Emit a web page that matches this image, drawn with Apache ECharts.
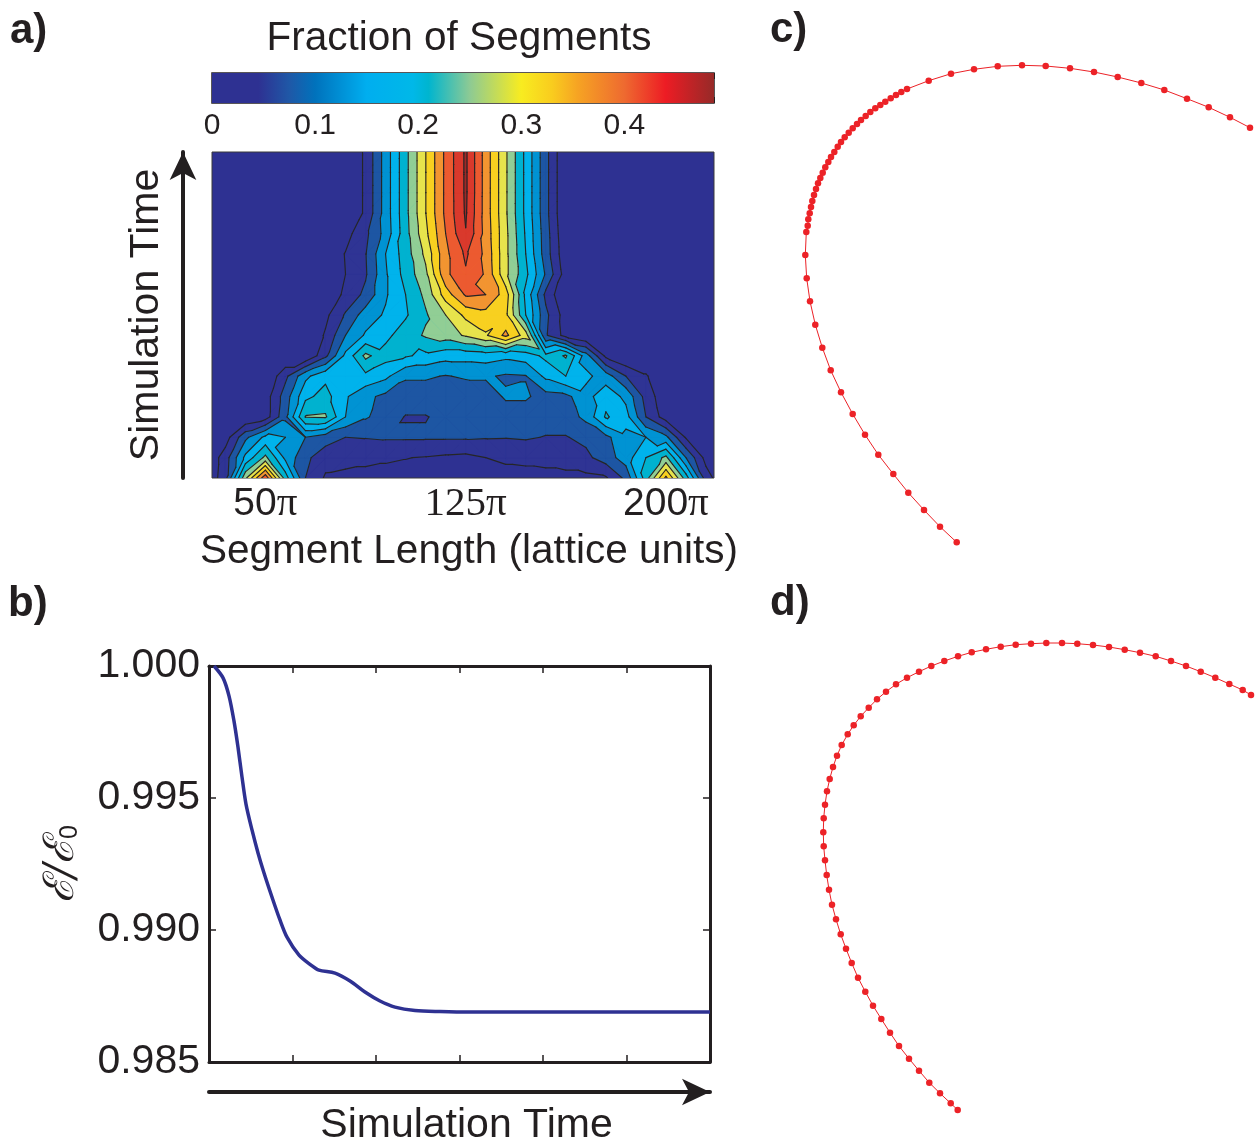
<!DOCTYPE html>
<html>
<head>
<meta charset="utf-8">
<script src="https://cdn.jsdelivr.net/npm/echarts@6/dist/echarts.min.js"></script>
<style>
  html, body { margin: 0; padding: 0; background: #fff; }
  #chart { width: 1260px; height: 1143px; }
</style>
</head>
<body>
<div id="chart"></div>
<script>
// ---------- panel a: segment-length distribution over time ----------
// Segment-length bins, in units of pi
const segLengths = [27.5, 35, 42.5, 50, 57.5, 65, 72.5, 80, 87.5, 95, 102.5, 110, 117.5, 125,
  132.5, 140, 147.5, 155, 162.5, 170, 177.5, 185, 192.5, 200, 207.5, 215, 222.5];
// Recorded simulation steps (bottom = start)
const timeSteps = [0, 1, 2, 3, 4, 5, 6, 7, 8, 9, 10, 11, 12, 13, 14, 15, 16];
// Fraction of segments, one row per time step, one entry per length bin
const fraction = [
  [0, 0.065, 0.27, 0.43, 0.22, 0.08, 0.035, 0.03, 0.03, 0.03, 0.03, 0.03, 0.03, 0.03, 0.03, 0.03, 0.03, 0.03, 0.03, 0.03, 0.035, 0.09, 0.22, 0.37, 0.22, 0.06, 0],
  [0, 0.06, 0.17, 0.25, 0.15, 0.09, 0.055, 0.053, 0.048, 0.044, 0.041, 0.038, 0.033, 0.03, 0.04, 0.045, 0.047, 0.05, 0.056, 0.07, 0.1, 0.14, 0.2, 0.25, 0.12, 0.025, 0],
  [0, 0.02, 0.11, 0.17, 0.16, 0.12, 0.1, 0.08, 0.082, 0.085, 0.085, 0.085, 0.085, 0.085, 0.083, 0.082, 0.085, 0.078, 0.078, 0.09, 0.11, 0.15, 0.16, 0.13, 0.035, 0, 0],
  [0, 0, 0, 0.02, 0.11, 0.242, 0.245, 0.16, 0.125, 0.1, 0.078, 0.078, 0.09, 0.095, 0.1, 0.1, 0.1, 0.1, 0.1, 0.13, 0.205, 0.175, 0.08, 0.02, 0, 0, 0],
  [0, 0, 0, 0.02, 0.1, 0.19, 0.215, 0.165, 0.13, 0.11, 0.1, 0.1, 0.1, 0.095, 0.1, 0.125, 0.125, 0.105, 0.11, 0.145, 0.185, 0.15, 0.065, 0.01, 0, 0, 0],
  [0, 0, 0, 0, 0.07, 0.15, 0.19, 0.18, 0.19, 0.17, 0.125, 0.125, 0.118, 0.125, 0.125, 0.115, 0.118, 0.17, 0.2, 0.17, 0.14, 0.08, 0.045, 0, 0, 0, 0],
  [0, 0, 0, 0, 0, 0, 0.07, 0.17, 0.25, 0.215, 0.205, 0.19, 0.175, 0.175, 0.18, 0.17, 0.18, 0.21, 0.245, 0.14, 0.03, 0, 0, 0, 0, 0, 0],
  [0, 0, 0, 0, 0, 0, 0.045, 0.12, 0.165, 0.19, 0.22, 0.245, 0.26, 0.285, 0.315, 0.37, 0.3, 0.085, 0.025, 0, 0, 0, 0, 0, 0, 0, 0],
  [0, 0, 0, 0, 0, 0, 0.03, 0.085, 0.14, 0.165, 0.195, 0.235, 0.28, 0.33, 0.345, 0.33, 0.2, 0.09, 0.02, 0, 0, 0, 0, 0, 0, 0, 0],
  [0, 0, 0, 0, 0, 0, 0.005, 0.05, 0.09, 0.155, 0.2, 0.25, 0.34, 0.405, 0.40, 0.34, 0.19, 0.07, 0, 0, 0, 0, 0, 0, 0, 0, 0],
  [0, 0, 0, 0, 0, 0, 0.01, 0.04, 0.075, 0.155, 0.215, 0.27, 0.39, 0.435, 0.395, 0.29, 0.21, 0.115, 0.02, 0, 0, 0, 0, 0, 0, 0, 0],
  [0, 0, 0, 0, 0, 0, 0.01, 0.042, 0.078, 0.16, 0.22, 0.29, 0.39, 0.447, 0.39, 0.29, 0.2, 0.1, 0.01, 0, 0, 0, 0, 0, 0, 0, 0],
  [0, 0, 0, 0, 0, 0, 0, 0.025, 0.07, 0.135, 0.225, 0.31, 0.40, 0.478, 0.385, 0.29, 0.195, 0.098, 0.005, 0, 0, 0, 0, 0, 0, 0, 0],
  [0, 0, 0, 0, 0, 0, 0, 0, 0.047, 0.138, 0.228, 0.319, 0.409, 0.485, 0.382, 0.286, 0.19, 0.093, 0, 0, 0, 0, 0, 0, 0, 0, 0],
  [0, 0, 0, 0, 0, 0, 0, 0, 0.047, 0.138, 0.228, 0.319, 0.409, 0.487, 0.382, 0.286, 0.19, 0.093, 0, 0, 0, 0, 0, 0, 0, 0, 0],
  [0, 0, 0, 0, 0, 0, 0, 0, 0.047, 0.138, 0.228, 0.319, 0.409, 0.487, 0.382, 0.286, 0.19, 0.093, 0, 0, 0, 0, 0, 0, 0, 0, 0],
  [0, 0, 0, 0, 0, 0, 0, 0, 0.047, 0.138, 0.228, 0.319, 0.409, 0.487, 0.382, 0.286, 0.19, 0.093, 0, 0, 0, 0, 0, 0, 0, 0, 0]
];
const lengthTicks = [50, 125, 200];
const contourLevels = [0.04, 0.08, 0.12, 0.16, 0.20, 0.24, 0.28, 0.32, 0.36, 0.40, 0.44, 0.48];
const bandColors = ['#2e3192', '#2f3494', '#1d56a3', '#0093d3', '#00b3ec', '#00b2cf', '#91ce95',
  '#e7e34c', '#f8d020', '#f29431', '#ec5a30', '#d9392c', '#9e2a28'];
const colorMax = 0.487;
const colorbarStops = [
  [0, '#2e3192'], [0.045, '#2e3192'], [0.075, '#1f58a7'], [0.1, '#0072bc'], [0.15, '#00aeef'],
  [0.195, '#00b8e8'], [0.21, '#00b5cf'], [0.25, '#8dca94'], [0.3, '#f8ec20'], [0.33, '#f9cc1e'],
  [0.355, '#f6a323'], [0.4, '#ee6a30'], [0.44, '#ed1c24'], [0.487, '#962a28']
];

// ---------- panel b: normalised energy ----------
const energyTime = [0.06, 0.168, 0.24, 0.299, 0.347, 0.395, 0.443, 0.515, 0.587, 0.659, 0.754, 0.85,
  0.934, 1.078, 1.222, 1.317, 1.509, 1.689, 1.868, 2.048, 2.228, 2.467, 2.766, 3.126, 6.0];
const energyRatio = [1.0, 0.99955, 0.99886, 0.99792, 0.99693, 0.9958, 0.99477, 0.99379, 0.99292,
  0.99216, 0.99125, 0.99038, 0.98973, 0.98905, 0.98867, 0.98848, 0.98837, 0.98807, 0.98765,
  0.98731, 0.98708, 0.98695, 0.98691, 0.98689, 0.98689];

// ---------- panels c, d: loop node positions ----------
const loopC = [[196.7,492.3],[180,476.7],[164,460],[148.3,442.7],[133.3,424],[118.3,404.7],[105,384.7],
  [92.7,364],[81,342.3],[70.7,320.3],[62.3,297.7],[55.3,274.7],[50,251.3],[46.7,228.3],[45.3,205],
  [46.3,182],[47.7,175.7],[48.3,169.3],[49.7,163.3],[51,157],[52.3,151],[54,145],[56,139],[58,133.3],
  [60.3,128],[62.7,122.7],[65.3,117.3],[68.3,112],[71,107],[74.3,102],[77.7,96.7],[81,92],[84.7,87.3],
  [88.7,82.7],[92.7,78.3],[97,74],[101,70],[105.7,66],[110.3,62],[115.3,58.3],[120.3,55],[125.3,51.7],
  [130.7,48.3],[136,45],[141.3,42],[147,39],[168.7,30.7],[191,23.7],[214,19.3],[237.7,16.3],[262,15.3],
  [285.7,16],[310,18.3],[334,22],[357.7,27],[381.3,33],[404.3,40],[427,48.7],[448.7,57.3],[470,67.3],
  [490,77.7]];
const loopD = [[197.7,490],[190.7,483.3],[180,473.3],[169.3,462.7],[159,450.7],[149,438.7],[139,426],
  [130,412.7],[121.3,399],[113,385.7],[105.3,371.7],[98,357.7],[91.7,343],[86,328.7],[80.7,314.3],
  [76,299.3],[72,284.7],[69,269.7],[66.7,255],[65,240.3],[63.7,226.3],[63.3,212.3],[63.7,198.3],
  [65,184.7],[67,171.3],[69.7,159],[73,147],[77,135.7],[81.7,125],[87.7,114.3],[93.7,105.3],
  [100.7,96.3],[108.7,87.7],[117,79.3],[126,71.7],[136,64.3],[147,57.7],[159,51.7],[171.3,46],
  [184.3,41],[198,36.3],[211.7,32.3],[226,29.3],[240.7,26.7],[255.7,24.7],[271,23.7],[286.3,23],
  [302,23],[317.3,23.7],[333,25],[349,27],[364.7,29.7],[380,32.7],[395.7,36.3],[411,41],[426,46],
  [440.7,51.7],[455.3,57.7],[469.3,64],[482.7,70],[491,75]];

const ink = '#231f20';
const sans = '"Liberation Sans", Arial, sans-serif';
const serif = '"Liberation Serif", "Times New Roman", serif';

// ---------- filled-contour helpers (linear interpolation on triangles) ----------
function node(i, j) {
  return { u: segLengths[i], t: timeSteps[j], v: fraction[j][i] };
}
function cellTriangles(i, j) {
  const p00 = node(i, j), p10 = node(i + 1, j), p11 = node(i + 1, j + 1), p01 = node(i, j + 1);
  if (Math.abs(p00.v - p11.v) <= Math.abs(p10.v - p01.v)) {
    return [[p00, p10, p11], [p00, p11, p01]];
  }
  return [[p00, p10, p01], [p10, p11, p01]];
}
function clipAbove(poly, level) {
  const out = [];
  for (let k = 0; k < poly.length; k++) {
    const a = poly[k], b = poly[(k + 1) % poly.length];
    const aIn = a.v >= level, bIn = b.v >= level;
    if (aIn) out.push(a);
    if (aIn !== bIn) {
      const f = (level - a.v) / (b.v - a.v);
      out.push({ u: a.u + f * (b.u - a.u), t: a.t + f * (b.t - a.t), v: level });
    }
  }
  return out;
}
const triangles = [];
const cells = [];
for (let j = 0; j < timeSteps.length - 1; j++) {
  for (let i = 0; i < segLengths.length - 1; i++) {
    cellTriangles(i, j).forEach(tri => triangles.push(tri));
    cells.push([(segLengths[i] + segLengths[i + 1]) / 2, (timeSteps[j] + timeSteps[j + 1]) / 2, i, j]);
  }
}
// one item per contour level, drawn in rising order so each band sits on the one below
const bandItems = contourLevels.map((lv, k) => [segLengths[0], timeSteps[0], k]);
function renderBand(params, api) {
  const k = api.value(2);
  const level = contourLevels[k], color = bandColors[k + 1];
  const children = [];
  triangles.forEach(tri => {
    const part = clipAbove(tri, level);
    if (part.length >= 3) {
      children.push({
        type: 'polygon',
        shape: { points: part.map(p => api.coord([p.u, p.t])) },
        style: { fill: color, stroke: color, lineWidth: 0.8 }
      });
    }
  });
  return { type: 'group', children };
}
function renderIsolines(params, api) {
  const i = api.value(2), j = api.value(3);
  const children = [];
  cellTriangles(i, j).forEach(tri => {
    contourLevels.forEach(lv => {
      const pts = [];
      for (let k = 0; k < 3; k++) {
        const a = tri[k], b = tri[(k + 1) % 3];
        if ((a.v >= lv) !== (b.v >= lv)) {
          const f = (lv - a.v) / (b.v - a.v);
          pts.push(api.coord([a.u + f * (b.u - a.u), a.t + f * (b.t - a.t)]));
        }
      }
      if (pts.length === 2) {
        children.push({
          type: 'line',
          shape: { x1: pts[0][0], y1: pts[0][1], x2: pts[1][0], y2: pts[1][1] },
          style: { stroke: '#262626', lineWidth: 1.15, lineCap: 'round' }
        });
      }
    });
  });
  return { type: 'group', children };
}
function renderColorbar(params, api) {
  const p0 = api.coord([api.value(0), 0]);
  const p1 = api.coord([api.value(1), 1]);
  return {
    type: 'rect',
    shape: { x: p0[0], y: p1[1], width: p1[0] - p0[0], height: p0[1] - p1[1] },
    style: {
      fill: new echarts.graphic.LinearGradient(0, 0, 1, 0,
        colorbarStops.map(([v, c]) => ({ offset: v / colorMax, color: c })))
    }
  };
}

const hiddenAxis = (grid, max, inverse) => ({
  gridIndex: grid, type: 'value', min: 0, max: max, inverse: !!inverse, show: false
});
const frameTicks = { inside: true, length: 7, lineStyle: { color: ink, width: 1.5 } };

const chart = echarts.init(document.getElementById('chart'), null, { renderer: 'canvas' });
chart.setOption({
  animation: false,
  backgroundColor: '#ffffff',
  grid: [
    { left: 212, top: 73, width: 502, height: 30, show: true, borderColor: ink, borderWidth: 1.5, outerBoundsMode: 'none' },
    { left: 212, top: 152, width: 502, height: 326, show: true, borderColor: '#3b3b3b', borderWidth: 1, backgroundColor: bandColors[0], outerBoundsMode: 'none' },
    { left: 209, top: 666, width: 501, height: 396, outerBoundsMode: 'none' },
    { left: 760, top: 50, width: 500, height: 510, outerBoundsMode: 'none' },
    { left: 760, top: 620, width: 500, height: 510, outerBoundsMode: 'none' }
  ],
  xAxis: [
    { gridIndex: 0, type: 'value', min: 0, max: colorMax, interval: 0.05, position: 'bottom',
      axisLine: { show: false }, splitLine: { show: false },
      axisTick: { inside: true, length: 6, lineStyle: { color: ink, width: 1 } },
      axisLabel: { margin: 8, fontSize: 30, fontFamily: sans, color: ink,
        formatter: v => (Math.abs(v * 10 - Math.round(v * 10)) < 1e-6 && v < 0.45) ? (v === 0 ? '0' : v.toFixed(1)) : '' } },
    { gridIndex: 0, type: 'value', min: 0, max: colorMax, interval: 0.05, position: 'top',
      axisLine: { show: false }, splitLine: { show: false }, axisLabel: { show: false },
      axisTick: { inside: true, length: 6, lineStyle: { color: ink, width: 1 } } },
    { gridIndex: 1, type: 'value', min: 30, max: 218, position: 'bottom',
      axisLine: { show: false }, axisTick: { show: false }, splitLine: { show: false },
      axisLabel: {
        customValues: lengthTicks, margin: 6,
        formatter: v => v === 125 ? '{s|125π}' : '{a|' + v + '}{p|π}',
        rich: {
          a: { fontFamily: sans, fontSize: 39, color: ink },
          p: { fontFamily: serif, fontSize: 41, color: ink },
          s: { fontFamily: serif, fontSize: 41, color: ink }
        }
      },
      name: 'Segment Length (lattice units)', nameLocation: 'middle', nameGap: 53,
      nameTextStyle: { fontFamily: sans, fontSize: 40.5, color: ink, padding: [0, 0, 0, 12] } },
    { gridIndex: 2, type: 'value', min: 0, max: 6, interval: 1, position: 'bottom',
      axisLine: { onZero: false, lineStyle: { color: ink, width: 3 } },
      axisTick: frameTicks, axisLabel: { show: false }, splitLine: { show: false } },
    { gridIndex: 2, type: 'value', min: 0, max: 6, interval: 1, position: 'top',
      axisLine: { onZero: false, lineStyle: { color: ink, width: 3 } },
      axisTick: frameTicks, axisLabel: { show: false }, splitLine: { show: false } },
    { gridIndex: 2, type: 'value', min: 0, max: 6, position: 'bottom', offset: 30,
      axisLine: { onZero: false, symbol: ['none', 'arrow'], symbolSize: [20, 28],
        lineStyle: { color: ink, width: 4 } },
      axisTick: { show: false }, axisLabel: { show: false }, splitLine: { show: false },
      name: 'Simulation Time', nameLocation: 'middle', nameGap: 13,
      nameTextStyle: { fontFamily: sans, fontSize: 41, color: ink, verticalAlign: 'top', padding: [0, 0, 0, 14] } },
    hiddenAxis(3, 500),
    hiddenAxis(4, 500)
  ],
  yAxis: [
    { gridIndex: 0, type: 'value', min: 0, max: 1, show: false },
    { gridIndex: 1, type: 'value', min: 0, max: 16, position: 'left', offset: 29,
      axisLine: { show: true, onZero: false, symbol: ['none', 'arrow'], symbolSize: [20, 28],
        lineStyle: { color: ink, width: 4 } },
      axisTick: { show: false }, axisLabel: { show: false }, splitLine: { show: false },
      name: 'Simulation Time', nameLocation: 'middle', nameRotate: 90, nameGap: 16,
      nameTextStyle: { fontFamily: sans, fontSize: 41, color: ink } },
    { gridIndex: 2, type: 'value', min: 0.985, max: 1.0, interval: 0.005, position: 'left',
      axisLine: { onZero: false, lineStyle: { color: ink, width: 3 } },
      axisTick: frameTicks, splitLine: { show: false },
      axisLabel: { margin: 9, fontSize: 41, fontFamily: sans, color: ink, formatter: v => v.toFixed(3) },
      name: '{e|ℰ/ℰ}{s|0}', nameLocation: 'middle', nameRotate: 90, nameGap: 126,
      nameTextStyle: { rich: {
        e: { fontFamily: '"DejaVu Serif", serif', fontStyle: 'italic', fontSize: 42, color: ink },
        s: { fontFamily: sans, fontSize: 25, color: ink, verticalAlign: 'bottom' }
      } } },
    { gridIndex: 2, type: 'value', min: 0.985, max: 1.0, interval: 0.005, position: 'right',
      axisLine: { onZero: false, lineStyle: { color: ink, width: 3 } },
      axisTick: frameTicks, axisLabel: { show: false }, splitLine: { show: false } },
    hiddenAxis(3, 510, true),
    hiddenAxis(4, 510, true)
  ],
  series: [
    { type: 'custom', name: 'colorbar', xAxisIndex: 0, yAxisIndex: 0, silent: true,
      renderItem: renderColorbar, data: [[0, colorMax]] },
    { type: 'custom', name: 'bands', xAxisIndex: 2, yAxisIndex: 1, silent: true, clip: true,
      renderItem: renderBand, data: bandItems, z: 2 },
    { type: 'custom', name: 'isolines', xAxisIndex: 2, yAxisIndex: 1, silent: true, clip: true,
      renderItem: renderIsolines, data: cells, z: 3 },
    { type: 'line', name: 'energy', xAxisIndex: 3, yAxisIndex: 2, silent: true,
      data: energyTime.map((t, k) => [t, energyRatio[k]]),
      smooth: 0.3, symbol: 'none', lineStyle: { color: '#2e3192', width: 3.5 } },
    { type: 'line', name: 'loop c', xAxisIndex: 6, yAxisIndex: 4, silent: true, data: loopC,
      symbol: 'circle', symbolSize: 6.5, itemStyle: { color: '#ec2227' },
      lineStyle: { color: '#ec2227', width: 1 } },
    { type: 'line', name: 'loop d', xAxisIndex: 7, yAxisIndex: 5, silent: true, data: loopD,
      symbol: 'circle', symbolSize: 6.5, itemStyle: { color: '#ec2227' },
      lineStyle: { color: '#ec2227', width: 1 } }
  ],
  graphic: [
    { type: 'text', x: 459, y: 18, style: { text: 'Fraction of Segments', fontFamily: sans, fontSize: 40.5, fill: ink, align: 'center', verticalAlign: 'top' } },
    { type: 'text', x: 10, y: 10, style: { text: 'a)', fontFamily: sans, fontWeight: 'bold', fontSize: 42, fill: ink } },
    { type: 'text', x: 8, y: 583, style: { text: 'b)', fontFamily: sans, fontWeight: 'bold', fontSize: 42, fill: ink } },
    { type: 'text', x: 770, y: 9, style: { text: 'c)', fontFamily: sans, fontWeight: 'bold', fontSize: 42, fill: ink } },
    { type: 'text', x: 770, y: 582, style: { text: 'd)', fontFamily: sans, fontWeight: 'bold', fontSize: 42, fill: ink } }
  ]
});
</script>
</body>
</html>
